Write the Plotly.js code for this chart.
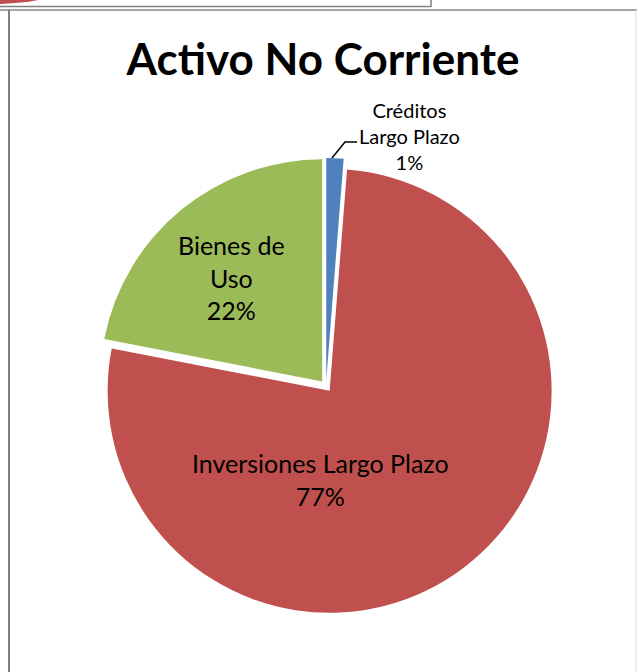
<!DOCTYPE html>
<html>
<head>
<meta charset="utf-8">
<script src="https://cdn.plot.ly/plotly-3.0.1.min.js"></script>
<style>
  html, body { margin: 0; padding: 0; background: #fff; }
  #chart { width: 637px; height: 672px; }
</style>
</head>
<body>
<div id="chart"></div>
<script>
// data
const labels = ['Créditos Largo Plazo', 'Inversiones Largo Plazo', 'Bienes de Uso'];
const labelLines = ['Créditos<br>Largo Plazo', 'Inversiones Largo Plazo', 'Bienes de<br>Uso'];
const values = [1.25, 76.8, 21.95];
const colors = ['#4F81BD', '#C0504D', '#9BBB59'];

const W = 637, H = 672;
const px = (x, y) => [x / W, 1 - y / H];
const total = values.reduce((a, b) => a + b, 0);
const pct = values.map(v => Math.round(v / total * 100) + '%');

// where each label text sits (pixels)
const labelPos = [[409, 136], [320, 479], [231, 277]];
const labelSize = [20, 25, 25];

const annotations = labels.map((l, i) => {
    const [x, y] = px(labelPos[i][0], labelPos[i][1]);
    return {
        xref: 'paper', yref: 'paper', x, y, xanchor: 'center', yanchor: 'middle',
        text: labelLines[i] + '<br>' + pct[i], showarrow: false,
        font: { family: 'Lato, "Open Sans", sans-serif', size: labelSize[i], color: '#000' }
    };
});

const path = (pts) => pts.map((p, i) => {
    const [x, y] = px(p[0], p[1]);
    return (i ? 'L' : 'M') + x + ',' + y;
}).join(' ');

const shapes = [
    // leader line for the small slice
    { type: 'path', xref: 'paper', yref: 'paper', path: path([[332, 158], [345, 142], [357, 142]]),
      line: { color: '#000', width: 1.5 } },
    // page decorations around the chart
    { type: 'circle', xref: 'paper', yref: 'paper',
      x0: px(-80, 0)[0], x1: px(70, 0)[0], y0: px(0, -40)[1], y1: px(0, 4)[1],
      fillcolor: '#C0504D', line: { width: 0 } },
    { type: 'line', xref: 'paper', yref: 'paper', x0: px(0, 6.5)[0], y0: px(0, 6.5)[1], x1: px(431, 6.5)[0], y1: px(431, 6.5)[1],
      line: { color: '#808080', width: 1.5 } },
    { type: 'line', xref: 'paper', yref: 'paper', x0: px(431, 0)[0], y0: px(431, 0)[1], x1: px(431, 7)[0], y1: px(431, 7)[1],
      line: { color: '#808080', width: 1.5 } },
    { type: 'line', xref: 'paper', yref: 'paper', x0: px(0, 10)[0], y0: px(0, 10)[1], x1: px(637, 10)[0], y1: px(637, 10)[1],
      line: { color: '#8a8a8a', width: 1.5 } },
    { type: 'line', xref: 'paper', yref: 'paper', x0: px(9, 10)[0], y0: px(9, 10)[1], x1: px(9, 672)[0], y1: px(9, 672)[1],
      line: { color: '#808080', width: 2 } },
    { type: 'line', xref: 'paper', yref: 'paper', x0: px(636, 10)[0], y0: px(636, 10)[1], x1: px(636, 672)[0], y1: px(636, 672)[1],
      line: { color: '#d8d8d8', width: 1 } }
];

const cx = 326, cy = 386, half = 228;
const [dx0, dy0] = px(cx - half, cy + half);
const [dx1, dy1] = px(cx + half, cy - half);

Plotly.newPlot('chart', [{
    type: 'pie',
    labels, values,
    marker: { colors, line: { color: '#fff', width: 0 } },
    sort: false,
    direction: 'clockwise',
    rotation: 0,
    pull: [0.027, 0.027, 0.027],
    textinfo: 'none',
    hoverinfo: 'label+percent',
    domain: { x: [dx0, dx1], y: [dy0, dy1] }
}], {
    width: W, height: H,
    margin: { l: 0, r: 0, t: 0, b: 0 },
    paper_bgcolor: '#fff',
    showlegend: false,
    title: {
        text: '<b>Activo No Corriente</b>',
        x: px(323, 0)[0], y: px(0, 60)[1], xanchor: 'center', yanchor: 'middle',
        font: { family: 'Lato, "Open Sans", sans-serif', size: 44, color: '#000' }
    },
    annotations, shapes
}, { displayModeBar: false, staticPlot: true });
</script>
</body>
</html>
